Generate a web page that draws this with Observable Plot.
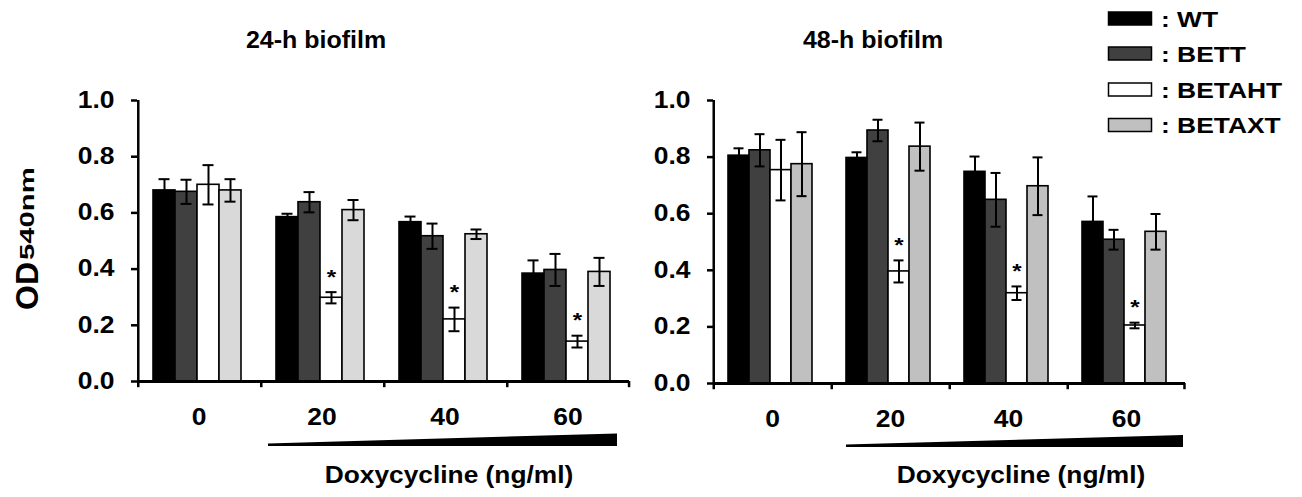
<!DOCTYPE html>
<html><head><meta charset="utf-8">
<script src="https://cdn.jsdelivr.net/npm/d3@7"></script>
<script src="https://cdn.jsdelivr.net/npm/@observablehq/plot@0.6"></script>
<style>
body{margin:0;background:#fff;}
#wrap{position:relative;width:1302px;height:497px;overflow:hidden;background:#fff;font-family:"Liberation Sans",Arial,sans-serif;font-weight:bold;}
.panel{position:absolute;top:0;}
#overlay{position:absolute;left:0;top:0;}
#overlay text{font-family:"Liberation Sans",Arial,sans-serif;font-weight:bold;fill:#000;}
</style></head><body>
<div id="wrap">
<div id="p24" class="panel" style="left:0px"></div>
<div id="p48" class="panel" style="left:575px"></div>
<svg id="overlay" width="1302" height="497"></svg>
</div>
<script>
// ---- data ----
const doses = [0, 20, 40, 60];
const strains = ["WT", "BETT", "BETAHT", "BETAXT"];
const yTicks = [0, 0.2, 0.4, 0.6, 0.8, 1.0];
const titles = ["24-h biofilm", "48-h biofilm"];
const xTitle = "Doxycycline (ng/ml)";

// 24-h biofilm (values per dose 0,20,40,60)
const wt24 = [0.680, 0.585, 0.567, 0.384];
const bett24 = [0.675, 0.638, 0.517, 0.397];
const betaht24 = [0.700, 0.298, 0.221, 0.142];
const betaxt24 = [0.680, 0.610, 0.524, 0.390];
const wt24Err = [0.040, 0.012, 0.020, 0.047];
const bett24Err = [0.043, 0.036, 0.045, 0.057];
const betaht24Err = [0.070, 0.020, 0.042, 0.021];
const betaxt24Err = [0.040, 0.036, 0.017, 0.050];

// 48-h biofilm
const wt48 = [0.805, 0.797, 0.748, 0.571];
const bett48 = [0.824, 0.894, 0.649, 0.508];
const betaht48 = [0.754, 0.396, 0.319, 0.205];
const betaxt48 = [0.775, 0.837, 0.697, 0.536];
const wt48Err = [0.026, 0.020, 0.054, 0.090];
const bett48Err = [0.057, 0.038, 0.095, 0.035];
const betaht48Err = [0.107, 0.039, 0.024, 0.010];
const betaxt48Err = [0.113, 0.085, 0.102, 0.063];

// significance marks (BETAHT) per dose
const sigBetaht = [false, true, true, true];

const fills24 = ["#000000", "#404040", "#ffffff", "#d9d9d9"];
const fills48 = ["#000000", "#404040", "#ffffff", "#c0c0c0"];
const legendFills = ["#000000", "#404040", "#ffffff", "#c0c0c0"];

function rows(means, errs) {
  const out = [];
  doses.forEach((dose, i) => {
    strains.forEach((strain, s) => {
      out.push({dose, strain, value: means[s][i], err: errs[s][i],
        sig: strain === "BETAHT" && sigBetaht[i]});
    });
  });
  return out;
}
const data24 = rows([wt24, bett24, betaht24, betaxt24], [wt24Err, bett24Err, betaht24Err, betaxt24Err]);
const data48 = rows([wt48, bett48, betaht48, betaxt48], [wt48Err, bett48Err, betaht48Err, betaxt48Err]);

const FONT = '"Liberation Sans", Arial, sans-serif';
const TEXT_STRETCH = 1.15;

function panel({data, width, height, marginLeft, marginRight, bottom, fills}) {
  const P = 0.74, A = 0.45;
  const fw = (width - marginLeft - marginRight) / doses.length;
  const step = fw / (strains.length + 2 * P);
  const leftEdge = step * 2 * P * A;
  const dxLeft = -(leftEdge + step / 2);
  const dxRight = fw - (leftEdge + step * (strains.length - 0.5));
  const first = doses[0], last = doses[doses.length - 1];
  return Plot.plot({
    width, height,
    marginTop: 100, marginBottom: height - bottom, marginLeft, marginRight,
    style: {background: "transparent", fontFamily: FONT, fontWeight: "bold", fontSize: "23px", color: "black", overflow: "visible"},
    fx: {domain: doses, padding: 0, label: null},
    x: {domain: strains, paddingInner: 0, paddingOuter: P, align: A, axis: null},
    y: {domain: [0, 1], label: null},
    color: {domain: strains, range: fills},
    marks: [
      Plot.barY(data, {fx: "dose", x: "strain", y: "value", fill: "strain", stroke: "black", strokeWidth: 1.6}),
      Plot.ruleX(data, {fx: "dose", x: "strain", y1: d => d.value - d.err, y2: d => d.value + d.err, stroke: "black", strokeWidth: 2}),
      Plot.tickY(data, {fx: "dose", x: "strain", y: d => d.value + d.err, stroke: "black", strokeWidth: 2, insetLeft: 5.5, insetRight: 5.5}),
      Plot.tickY(data, {fx: "dose", x: "strain", y: d => d.value - d.err, stroke: "black", strokeWidth: 2, insetLeft: 5.5, insetRight: 5.5}),
      Plot.text(data.filter(d => d.sig), {fx: "dose", x: "strain", y: d => d.value + d.err, text: () => "*", dy: -15, fontSize: 21}),
      Plot.ruleY(doses, {fx: d => d, y: 0, stroke: "black", strokeWidth: 3}),
      Plot.ruleX([first], {fx: d => d, x: () => strains[0], y1: 0, y2: 1, dx: dxLeft, stroke: "black", strokeWidth: 2.5}),
      Plot.ruleX(doses, {fx: d => d, x: () => strains[0], y1: 0, y2: -0.022, dx: dxLeft, stroke: "black", strokeWidth: 2.5}),
      Plot.ruleX([last], {fx: d => d, x: () => strains[strains.length - 1], y1: 0, y2: -0.022, dx: dxRight, stroke: "black", strokeWidth: 2.5}),
      Plot.axisY({ticks: yTicks, tickFormat: d3.format(".1f"), tickSize: 6, tickPadding: 17, strokeWidth: 2.5, label: null}),
      Plot.axisFx({anchor: "bottom", tickSize: 0, tickPadding: 27, label: null})
    ]
  });
}

function stretchTexts(svg, s) {
  svg.querySelectorAll("text").forEach(t => {
    let tr = t.getAttribute("transform") || "";
    const x = t.getAttribute("x");
    if (x !== null && !/em/.test(x) && x !== "") {
      tr += ` translate(${x},0)`;
      t.removeAttribute("x");
    }
    t.setAttribute("transform", tr + ` scale(${s},1)`);
  });
}

const svg24 = panel({data: data24, width: 640, height: 430, marginLeft: 136, marginRight: 11, bottom: 381, fills: fills24});
const svg48 = panel({data: data48, width: 620, height: 432, marginLeft: 136, marginRight: 9, bottom: 383, fills: fills48});
stretchTexts(svg24, TEXT_STRETCH);
stretchTexts(svg48, TEXT_STRETCH);
document.getElementById("p24").appendChild(svg24);
document.getElementById("p48").appendChild(svg48);

// ---- overlay: titles, legend, axis titles, wedges ----
const ov = d3.select("#overlay");
ov.selectAll("text.title").data(titles).join("text").attr("class", "title")
  .attr("transform", (d, i) => `translate(${[316, 873][i]},47.5) scale(1.02,1)`)
  .attr("text-anchor", "middle").attr("font-size", 24.5).text(d => d);

// wedges (increasing dose)
ov.append("polygon").attr("points", "268,443.5 617,433.5 617,446 268,446").attr("fill", "#000");
ov.append("polygon").attr("points", "846,444.5 1183,435 1183,447 846,447").attr("fill", "#000");

[449, 1021].forEach((cx, i) => {
  ov.append("text").attr("transform", `translate(${cx},${482.5}) scale(1.12,1)`)
    .attr("text-anchor", "middle").attr("font-size", 23.5).text(xTitle);
});

// y title OD540nm
ov.append("text").attr("transform", "translate(37.5,310) rotate(-90)")
  .attr("font-size", 32).text("OD");
ov.append("text").attr("transform", "translate(34,260) rotate(-90) scale(1.5,1)")
  .attr("font-size", 19.5).text("540nm");

// legend
const rowY = [18.5, 53.5, 89.5, 125];
const lg = ov.selectAll("g.lg").data(strains).join("g").attr("class", "lg");
lg.append("rect").attr("x", 1108.5).attr("y", (d, i) => rowY[i] - 6.5).attr("width", 43).attr("height", 13)
  .attr("fill", (d, i) => legendFills[i]).attr("stroke", "#000").attr("stroke-width", 1.5);
lg.append("text").attr("transform", (d, i) => `translate(1161,${rowY[i] + 8}) scale(1.2,1)`)
  .attr("font-size", 22).text(d => ": " + d);
</script>
</body></html>
